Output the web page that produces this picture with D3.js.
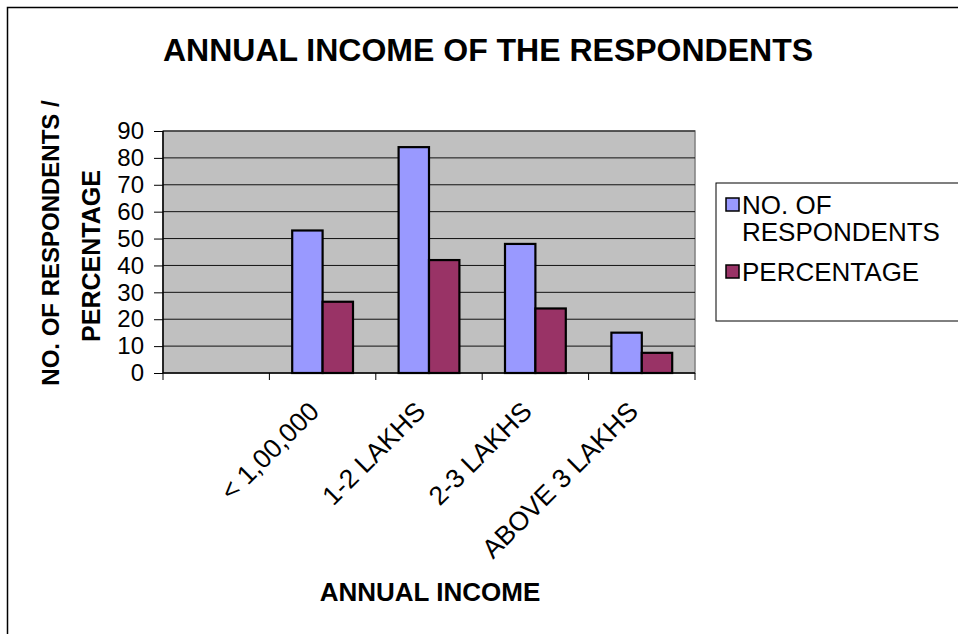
<!DOCTYPE html>
<html>
<head>
<meta charset="utf-8">
<script src="https://cdn.jsdelivr.net/npm/d3@7"></script>
<style>
  html, body { margin: 0; padding: 0; background: #fff; }
  svg { display: block; font-family: "Liberation Sans", Arial, sans-serif; }
</style>
</head>
<body>
<svg id="chart" width="958" height="634"></svg>
<script>
// Income brackets (the first slot is an empty category)
const categories = ["", "< 1,00,000", "1-2 LAKHS", "2-3 LAKHS", "ABOVE 3 LAKHS"];
const respondents = [null, 53, 84, 48, 15];
const percentage = [null, 26.5, 42, 24, 7.5];
const seriesNames = ["NO. OF RESPONDENTS", "PERCENTAGE"];
const seriesColors = ["#9999ff", "#993366"];
const yTicks = [0, 10, 20, 30, 40, 50, 60, 70, 80, 90];

const svg = d3.select("#chart");

// Outer chart frame (extends past the right and bottom edges)
svg.append("path")
  .attr("d", "M7.5,700 V7.5 H1000")
  .attr("fill", "none")
  .attr("stroke", "#000")
  .attr("stroke-width", 1.5);

const plot = { left: 163, top: 131, right: 695, bottom: 373 };

const x = d3.scaleBand()
  .domain(categories.map((d, i) => i))
  .range([plot.left, plot.right])
  .paddingInner(0).paddingOuter(0);

const y = d3.scaleLinear().domain([0, 90]).range([plot.bottom, plot.top]);

// Plot background
svg.append("rect")
  .attr("x", plot.left).attr("y", plot.top)
  .attr("width", plot.right - plot.left).attr("height", plot.bottom - plot.top)
  .attr("fill", "#c0c0c0")
  .attr("stroke", "#808080").attr("stroke-width", 1.5);

// Horizontal gridlines
svg.append("g").selectAll("line")
  .data(yTicks.filter(t => t > 0))
  .join("line")
  .attr("x1", plot.left).attr("x2", plot.right)
  .attr("y1", d => y(d)).attr("y2", d => y(d))
  .attr("stroke", "#111").attr("stroke-width", 1);

// Bars: gap width 150% of a bar
const bw = x.bandwidth() / 3.5;
const groups = svg.append("g");
[respondents, percentage].forEach((vals, s) => {
  groups.append("g").selectAll("rect")
    .data(vals.map((v, i) => ({ v, i })).filter(d => d.v != null))
    .join("rect")
    .attr("x", d => x(d.i) + x.bandwidth() / 2 - bw + s * bw)
    .attr("y", d => y(d.v))
    .attr("width", bw)
    .attr("height", d => y(0) - y(d.v))
    .attr("fill", seriesColors[s])
    .attr("stroke", "#000").attr("stroke-width", 2.2);
});

// Y axis
const yAxis = d3.axisLeft(y).tickValues(yTicks).tickSize(9).tickPadding(10).tickFormat(d3.format("d"));
const gy = svg.append("g").attr("transform", `translate(${plot.left},0)`).call(yAxis);
gy.select(".domain").attr("stroke", "#000").attr("stroke-width", 1.5).attr("d", `M0,${plot.top}V${plot.bottom}`);
gy.selectAll(".tick line").attr("stroke", "#000");
gy.selectAll(".tick text").attr("font-size", 24).attr("fill", "#000")
  .attr("font-family", "Liberation Sans, Arial, sans-serif");

// X axis: ticks on category boundaries
const gx = svg.append("g").attr("transform", `translate(0,${plot.bottom})`);
gx.append("line").attr("x1", plot.left).attr("x2", plot.right).attr("stroke", "#000").attr("stroke-width", 1.5);
const bounds = categories.map((d, i) => x(i)).concat([plot.right]);
gx.selectAll("line.tk").data(bounds).join("line").attr("class", "tk")
  .attr("x1", d => d).attr("x2", d => d).attr("y1", 0).attr("y2", 7)
  .attr("stroke", "#000");
gx.selectAll("text").data(categories.map((c, i) => ({ c, i })).filter(d => d.c))
  .join("text")
  .attr("transform", d => `translate(${x(d.i) + x.bandwidth() / 2 - 2},${40}) rotate(-45)`)
  .attr("text-anchor", "end")
  .attr("font-size", 26.5)
  .text(d => d.c);

// Titles
svg.append("text").attr("x", 488).attr("y", 61).attr("text-anchor", "middle")
  .attr("font-size", 32).attr("font-weight", "bold").text("ANNUAL INCOME OF THE RESPONDENTS");
svg.append("text").attr("x", 430).attr("y", 601).attr("text-anchor", "middle")
  .attr("font-size", 26).attr("font-weight", "bold").text("ANNUAL INCOME");
svg.append("text").attr("transform", "translate(59,243) rotate(-90)")
  .attr("text-anchor", "middle").attr("font-size", 24).attr("font-weight", "bold")
  .text("NO. OF RESPONDENTS /");
svg.append("text").attr("transform", "translate(100,256) rotate(-90)")
  .attr("text-anchor", "middle").attr("font-size", 25).attr("font-weight", "bold")
  .text("PERCENTAGE");

// Legend
const lg = svg.append("g");
lg.append("rect").attr("x", 716).attr("y", 183).attr("width", 300).attr("height", 138)
  .attr("fill", "#fff").attr("stroke", "#000").attr("stroke-width", 1);
const legendItems = [
  { lines: ["NO. OF", "RESPONDENTS"], y: 214 },
  { lines: ["PERCENTAGE"], y: 281 }
];
legendItems.forEach((it, s) => {
  lg.append("rect").attr("x", 726).attr("y", it.y - 16).attr("width", 13).attr("height", 13)
    .attr("fill", seriesColors[s]).attr("stroke", "#000").attr("stroke-width", 1.5);
  const t = lg.append("text").attr("font-size", 26).attr("x", 742).attr("y", it.y);
  it.lines.forEach((l, k) => t.append("tspan").attr("x", 742).attr("dy", k ? 27 : 0).text(l));
});
</script>
</body>
</html>
